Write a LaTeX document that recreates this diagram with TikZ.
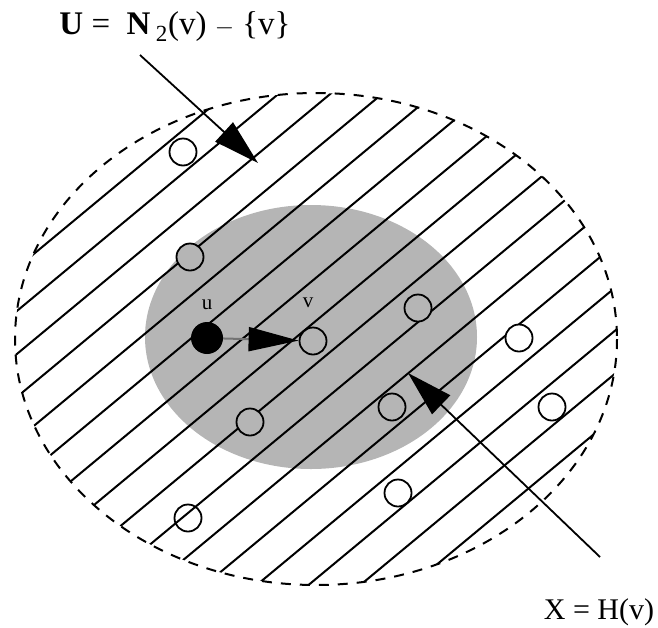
\documentclass[tikz,border=0pt]{standalone}
\usepackage{fontspec}
\setmainfont{Liberation Serif}
\usetikzlibrary{arrows.meta}

\begin{document}
\begin{tikzpicture}[x=1pt,y=-1pt,>={Triangle[length=46pt,width=26pt]},
  vtx/.style={circle,draw,line width=1.8pt,minimum size=27pt,inner sep=0pt},
  hatch/.style={line width=2pt},
  every node/.style={font=\fontsize{30}{34}\selectfont}]
\useasboundingbox (0,0) rectangle (658,627);
\fill[gray!58] (311,337) ellipse [x radius=166,y radius=132];
\begin{scope}
\clip (316,339) ellipse [x radius=301,y radius=246];
\foreach \k in {-4,...,13}{\draw[hatch] (0,{411+43*\k}) -- (658,{411+43*\k-546});}
\end{scope}
\draw[hatch,dash pattern=on 10pt off 9pt] (316,339) ellipse [x radius=301,y radius=246];
\node[vtx,fill=white] (w1) at (183,152) {};
\node[vtx,fill=gray!58] (w2) at (190,257) {};
\node[vtx,fill=gray!58] (w3) at (418,308) {};
\node[vtx,fill=gray!58] (w4) at (250,422) {};
\node[vtx,fill=gray!58] (w5) at (392,407) {};
\node[vtx,fill=white] (w6) at (519,338) {};
\node[vtx,fill=white] (w7) at (552,407) {};
\node[vtx,fill=white] (w8) at (398,493) {};
\node[vtx] (w9) at (188,518) {};
\node[circle,fill,minimum size=32pt,inner sep=0pt] (u) at (207,338) {};
\node[vtx,fill=gray!58] (v) at (313,341) {};
\node[font=\fontsize{21}{24}\selectfont] (ulab) at (207,305) {u};
\node[font=\fontsize{21}{24}\selectfont] (vlab) at (308,303) {v};
\node[font=\fontsize{33}{36}\selectfont] (U) at (175,27) {\textbf{U} =\ \ \textbf{N}\,$_{\mathrm{2}}$(v) $-$ \{v\}};
\node (X) at (599,612) {X = H(v)};
\coordinate (p1) at (140,55);
\coordinate (t1) at (258,163);
\coordinate (p2) at (600,557);
\coordinate (t2) at (408,373);
\draw[->,line width=1.8pt] (p1) -- (t1);
\draw[->,line width=1.8pt] (p2) -- (t2);
\draw[-{Triangle[length=50pt,width=24pt,black]},line width=2pt,black!55] (u) -- (v);
\end{tikzpicture}
\end{document}
